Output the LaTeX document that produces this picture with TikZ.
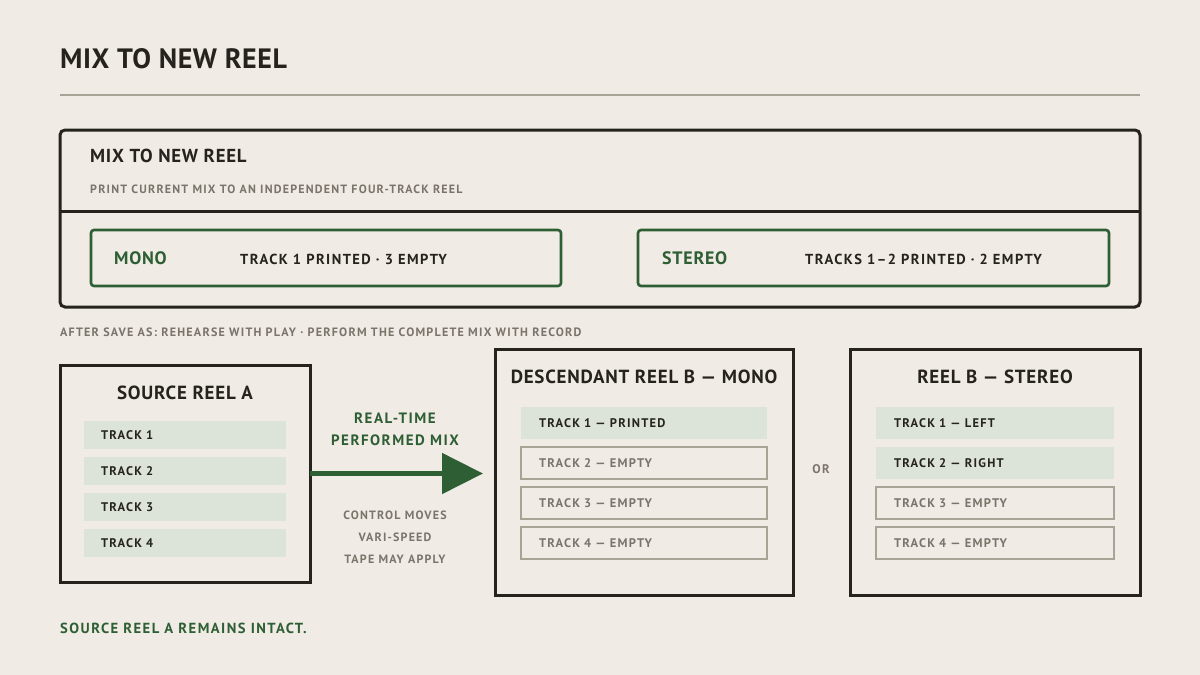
\documentclass[tikz,border=0pt]{standalone}
\usepackage{fontspec}
\setmainfont{PT Sans}
\newfontfamily\lsZ{PT Sans}[LetterSpace=2]
\newfontfamily\lsA{PT Sans}[LetterSpace=4]
\newfontfamily\lsB{PT Sans}[LetterSpace=10]
\usetikzlibrary{arrows.meta,calc}
\definecolor{bg}{HTML}{F0EBE4}
\definecolor{ink}{HTML}{26231F}
\definecolor{mute}{HTML}{7A746B}
\definecolor{rulec}{HTML}{A8A395}
\definecolor{grn}{HTML}{2D5E34}
\definecolor{trk}{HTML}{DCE3D9}
\tikzset{
  txt/.style={inner sep=0pt, anchor=west, text=ink},
  reelbox/.style={draw=ink, line width=3pt, anchor=north west, inner sep=0pt, outer sep=0pt},
  modebox/.style={draw=grn, line width=2.6pt, rounded corners=3pt, anchor=north west, inner sep=0pt, outer sep=0pt},
  trkrow/.style={fill=trk, anchor=north west, inner ysep=0pt, outer sep=0pt, align=left, text=ink, font=\lsB\bfseries\fontsize{12.5}{14}\selectfont},
  emptyrow/.style={trkrow, fill=none, draw=rulec, line width=2pt, text=mute},
}
\begin{document}
\begin{tikzpicture}[x=1pt,y=-1pt]
\fill[bg] (0,0) rectangle (1200,675);
\useasboundingbox (0,0) rectangle (1200,675);
% title
\node[txt, font=\lsZ\bfseries\fontsize{28}{34}\selectfont] (title) at (60,59) {MIX TO NEW REEL};
\coordinate (r1) at (60,95);
\coordinate (r2) at (1140,95);
\draw[rulec, line width=2pt] (r1) -- (r2);
% panel
\node[reelbox, rounded corners=5pt, minimum width=1080pt, minimum height=177pt] (panel) at (60,130) {};
\coordinate (d1) at (60,211);
\coordinate (d2) at (1140,211);
\draw[ink, line width=3pt] (d1) -- (d2);
\node[txt, font=\lsA\bfseries\fontsize{18.8}{22}\selectfont] (ptitle) at (90,156) {MIX TO NEW REEL};
\node[txt, text=mute, font=\lsB\bfseries\fontsize{12}{14}\selectfont] (psub) at (90,189) {PRINT CURRENT MIX TO AN INDEPENDENT FOUR-TRACK REEL};
\node[modebox, minimum width=470pt, minimum height=56pt] (mono) at (91,230) {};
\node[txt, text=grn, font=\lsA\bfseries\fontsize{18}{20}\selectfont] (monol) at (114,258) {MONO};
\node[txt, font=\lsB\bfseries\fontsize{14.5}{16}\selectfont] (monod) at (240,259) {TRACK 1 PRINTED · 3 EMPTY};
\node[modebox, minimum width=471pt, minimum height=56pt] (stereo) at (638,230) {};
\node[txt, text=grn, font=\lsA\bfseries\fontsize{18}{20}\selectfont] (stereol) at (662,258) {STEREO};
\node[txt, font=\lsB\bfseries\fontsize{14.5}{16}\selectfont] (stereod) at (805,259) {TRACKS 1–2 PRINTED · 2 EMPTY};
% note
\node[txt, text=mute, font=\lsB\bfseries\fontsize{12.1}{14}\selectfont] (note) at (60,332) {AFTER SAVE AS: REHEARSE WITH PLAY · PERFORM THE COMPLETE MIX WITH RECORD};
% source reel
\node[reelbox, minimum width=250pt, minimum height=217pt] (src) at (60,365) {};
\node[txt, anchor=center, font=\lsA\bfseries\fontsize{19}{22}\selectfont] (srct) at (185,393) {SOURCE REEL A};
\node[trkrow, minimum width=202pt, minimum height=28pt, text width=168pt, inner xsep=17pt] (s1) at (84,421) {TRACK 1};
\node[trkrow, minimum width=202pt, minimum height=28pt, text width=168pt, inner xsep=17pt] (s2) at (84,457) {TRACK 2};
\node[trkrow, minimum width=202pt, minimum height=28pt, text width=168pt, inner xsep=17pt] (s3) at (84,493) {TRACK 3};
\node[trkrow, minimum width=202pt, minimum height=28pt, text width=168pt, inner xsep=17pt] (s4) at (84,529) {TRACK 4};
% descendant mono
\node[reelbox, minimum width=298pt, minimum height=246pt] (desc) at (495,349) {};
\node[txt, anchor=center, font=\lsA\bfseries\fontsize{19}{22}\selectfont] (desct) at (644,377) {DESCENDANT REEL B — MONO};
\node[trkrow, minimum width=246pt, minimum height=32pt, text width=210pt, inner xsep=18pt] (m1) at (521,407) {TRACK 1 — PRINTED};
\node[emptyrow, minimum width=246pt, minimum height=32pt, text width=210pt, inner xsep=18pt] (m2) at (521,447) {TRACK 2 — EMPTY};
\node[emptyrow, minimum width=246pt, minimum height=32pt, text width=210pt, inner xsep=18pt] (m3) at (521,487) {TRACK 3 — EMPTY};
\node[emptyrow, minimum width=246pt, minimum height=32pt, text width=210pt, inner xsep=18pt] (m4) at (521,527) {TRACK 4 — EMPTY};
% or
\node[txt, anchor=center, text=mute, font=\lsB\bfseries\fontsize{12.5}{14}\selectfont] (or) at (821,469) {OR};
% stereo reel
\node[reelbox, minimum width=290pt, minimum height=246pt] (ster) at (850,349) {};
\node[txt, anchor=center, font=\lsA\bfseries\fontsize{19}{22}\selectfont] (stert) at (995,377) {REEL B — STEREO};
\node[trkrow, minimum width=238pt, minimum height=32pt, text width=202pt, inner xsep=18pt] (t1) at (876,407) {TRACK 1 — LEFT};
\node[trkrow, minimum width=238pt, minimum height=32pt, text width=202pt, inner xsep=18pt] (t2) at (876,447) {TRACK 2 — RIGHT};
\node[emptyrow, minimum width=238pt, minimum height=32pt, text width=202pt, inner xsep=18pt] (t3) at (876,487) {TRACK 3 — EMPTY};
\node[emptyrow, minimum width=238pt, minimum height=32pt, text width=202pt, inner xsep=18pt] (t4) at (876,527) {TRACK 4 — EMPTY};
% arrow
\draw[grn, line width=5pt, -{Triangle[length=41pt, width=40pt]}, shorten >=12pt] (src.east) -- (src.east -| desc.west);
\node[txt, anchor=center, text=grn, font=\lsB\bfseries\fontsize{15}{18}\selectfont, align=center] (rt) at (395,429.5) {REAL-TIME\\[4pt]PERFORMED MIX};
\node[txt, anchor=center, text=mute, font=\lsB\bfseries\fontsize{12}{14}\selectfont, align=center] (cm) at (395,537) {CONTROL MOVES\\[8pt]VARI-SPEED\\[8pt]TAPE MAY APPLY};
% footer
\node[txt, text=grn, font=\lsB\bfseries\fontsize{14.6}{18}\selectfont] (foot) at (60,628) {SOURCE REEL A REMAINS INTACT.};
\end{tikzpicture}
\end{document}
